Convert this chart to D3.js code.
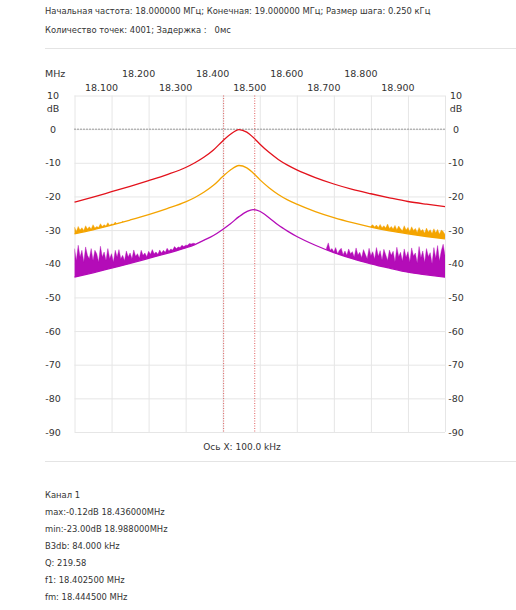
<!DOCTYPE html>
<html>
<head>
<meta charset="utf-8">
<script src="https://cdn.jsdelivr.net/npm/d3@7"></script>
<style>
body { margin: 0; background: #fff; }
text { font-family: "DejaVu Sans", Verdana, sans-serif; fill: #333; white-space: pre; }
</style>
</head>
<body>
<script>
// sweep settings / header
var header1 = "Начальная частота: 18.000000 МГц; Конечная: 19.000000 МГц; Размер шага: 0.250 кГц";
var header2 = "Количество точек: 4001; Задержка :   0мс";
var xAxisCaption = "Ось X: 100.0 kHz";
var infoLines = ["Канал 1", "max:-0.12dB 18.436000MHz", "min:-23.00dB 18.988000MHz",
  "B3db: 84.000 kHz", "Q: 219.58", "f1: 18.402500 MHz", "fm: 18.444500 MHz", "f2: 18.486500 MHz"];

// tick labels
var xGrid = [18.0, 18.1, 18.2, 18.3, 18.4, 18.5, 18.6, 18.7, 18.8, 18.9, 19.0];
var xLabelsTop = [18.2, 18.4, 18.6, 18.8];
var xLabelsBottom = [18.1, 18.3, 18.5, 18.7, 18.9];
var yTicks = [10, 0, -10, -20, -30, -40, -50, -60, -70, -80, -90];
var markers = [18.4025, 18.4865];

// traces (MHz, dB)
var freqs = [18.000, 18.050, 18.100, 18.150, 18.200, 18.250, 18.300, 18.325, 18.350, 18.375,
  18.400, 18.420, 18.444, 18.465, 18.482, 18.500, 18.525, 18.550, 18.575, 18.600,
  18.650, 18.700, 18.750, 18.800, 18.850, 18.900, 18.950, 19.000];
var ch1 = [-21.7, -20.2, -18.6, -17.0, -15.3, -13.5, -11.4, -10.0, -8.3, -6.2,
  -3.5, -1.6, -0.12, -0.9, -2.4, -4.4, -6.9, -9.0, -10.7, -12.1,
  -14.4, -16.3, -17.9, -19.2, -20.4, -21.5, -22.3, -23.0];
var ch2 = [-31.1, -29.9, -28.5, -27.0, -25.4, -23.6, -21.6, -20.3, -18.7, -16.7,
  -14.1, -12.2, -10.8, -11.5, -13.0, -15.0, -17.4, -19.4, -21.0, -22.3,
  -24.5, -26.3, -27.8, -29.1, -30.2, -31.1, -31.9, -32.6];
var ch3 = [-44.0, -42.7, -41.3, -39.9, -38.4, -36.9, -35.3, -34.3, -33.0, -31.6,
  -29.8, -28.2, -26.0, -24.5, -23.9, -24.4, -26.3, -28.5, -30.3, -31.9,
  -34.5, -36.7, -38.5, -40.0, -41.3, -42.5, -43.3, -44.0];

// noise tops (dB) sampled every 5 kHz
var noiseStep = 0.005;
var ch2NoiseLeftStart = 18.000;
var ch2NoiseLeft = [-29.1, -30.4, -28.9, -30.0, -29.3, -30.1, -28.7, -29.7, -29.0, -29.7,
  -28.4, -29.4, -28.9, -29.2, -28.1, -28.9, -28.4, -28.8, -27.8, -28.6,
  -28.2, -28.3, -27.6, -28.2, -27.9, -28.0, -27.4, -27.8, -27.5, -27.6, -27.4];
var ch2NoiseRightStart = 18.800;
var ch2NoiseRight = [-28.8, -28.4, -29.1, -28.5, -29.2, -28.3, -29.3, -28.7, -29.4, -28.2,
  -29.5, -28.9, -29.7, -28.6, -29.9, -28.8, -29.6, -30.2, -28.7, -30.0,
  -29.2, -30.4, -29.0, -30.1, -29.5, -30.7, -29.2, -30.3, -29.8, -30.9,
  -29.4, -30.6, -29.9, -31.0, -29.6, -30.8, -29.8, -31.2, -30.0, -30.4, -31.3];
var ch3NoiseLeftStart = 18.000;
var ch3NoiseLeft = [-35.5, -39.0, -34.5, -38.0, -36.0, -39.5, -35.0, -37.5, -38.5, -35.5,
  -39.0, -36.0, -37.0, -39.5, -34.8, -38.0, -36.5, -39.0, -35.5, -38.5,
  -37.0, -39.5, -36.0, -38.0, -35.8, -38.5, -37.5, -39.0, -36.2, -38.0,
  -36.8, -38.5, -35.9, -37.8, -37.0, -38.3, -36.0, -37.5, -36.8, -37.9,
  -36.3, -37.2, -35.8, -37.0, -36.5, -37.2, -35.9, -36.8, -36.0, -36.6,
  -35.4, -36.2, -35.6, -35.9, -34.9, -35.5, -35.0, -35.2, -34.5, -34.9,
  -34.5, -34.5, -34.0, -34.1, -33.9, -34.0];
var ch3NoiseRightStart = 18.680;
var ch3NoiseRight = [-35.4, -33.8, -36.0, -35.5, -36.5, -35.2, -37.0, -36.0, -35.4, -37.3,
  -36.2, -37.5, -35.6, -37.0, -36.4, -38.0, -35.3, -37.4, -36.6, -38.2,
  -35.8, -37.2, -38.5, -35.4, -37.6, -36.4, -38.6, -35.2, -37.8, -36.1,
  -38.9, -35.7, -37.3, -39.0, -35.9, -37.5, -36.3, -39.4, -35.1, -37.9,
  -36.6, -39.2, -35.6, -38.1, -36.4, -39.5, -35.3, -37.7, -36.8, -39.8,
  -34.9, -38.2, -36.2, -39.6, -35.5, -37.9, -36.7, -40.0, -35.2, -38.4,
  -34.6, -39.2, -36.1, -34.2, -37.5];

var colors = { ch1: "#e3121c", ch2: "#f4a400", ch3: "#b40cb8" };

var svg_width = 516;
var svg_height = 610;
var plotTop = 95.5, plotBottom = 432, plotLeft = 74.5, plotRight = 445;

var svg = d3.select("body")
    .append("svg")
    .attr("width", svg_width)
    .attr("height", svg_height)
    .style("background-color", "#ffffff");

var x = d3.scaleLinear().domain([18, 19]).range([plotLeft, plotRight]);
var y = d3.scaleLinear().domain([10, -90]).range([plotTop, plotBottom]);
var smooth = d3.curveMonotoneX;

// header
svg.append("text").attr("x", 45).attr("y", 14).style("font-size", "8.4px").text(header1);
svg.append("text").attr("x", 45).attr("y", 32.5).style("font-size", "8.4px").text(header2);
svg.append("line").attr("x1", 45).attr("x2", 516).attr("y1", 48.5).attr("y2", 48.5)
    .attr("stroke", "#e4e4e4");
svg.append("line").attr("x1", 45).attr("x2", 516).attr("y1", 461.5).attr("y2", 461.5)
    .attr("stroke", "#e4e4e4");

// grid
svg.append("g")
    .attr("transform", "translate(0," + plotBottom + ")")
    .call(d3.axisBottom(x).tickValues(xGrid).tickSize(-(plotBottom - plotTop)).tickFormat(""))
    .call(g => g.select(".domain").remove())
    .selectAll("line").attr("stroke", "#e6e6e6");
svg.append("g")
    .attr("transform", "translate(" + plotLeft + ",0)")
    .call(d3.axisLeft(y).tickValues(yTicks).tickSize(-(plotRight - plotLeft)).tickFormat(""))
    .call(g => g.select(".domain").remove())
    .selectAll("line").attr("stroke", "#e6e6e6");

// 0 dB reference
svg.append("line")
    .attr("x1", plotLeft).attr("x2", plotRight)
    .attr("y1", y(0)).attr("y2", y(0))
    .attr("stroke", "#444").attr("stroke-dasharray", "1,2");

// markers f1 / f2
svg.selectAll(".marker").data(markers).enter().append("line")
    .attr("class", "marker")
    .attr("x1", d => x(d)).attr("x2", d => x(d))
    .attr("y1", plotTop).attr("y2", plotBottom)
    .attr("stroke", "#e06060").attr("stroke-dasharray", "1,1.5");

// axis labels
svg.append("text").attr("x", 45).attr("y", 76.5).style("font-size", "9.5px").text("MHz");
svg.selectAll(".xt1").data(xLabelsTop).enter().append("text")
    .attr("x", d => x(d) - 10).attr("y", 77)
    .attr("text-anchor", "middle").style("font-size", "9.5px")
    .text(d => d3.format(".3f")(d));
svg.selectAll(".xt2").data(xLabelsBottom).enter().append("text")
    .attr("x", d => x(d) - 10).attr("y", 91)
    .attr("text-anchor", "middle").style("font-size", "9.5px")
    .text(d => d3.format(".3f")(d));

[53, 456].forEach(function(lx) {
    svg.selectAll(null).data(yTicks).enter().append("text")
        .attr("x", lx).attr("y", d => y(d) + 3.5)
        .attr("text-anchor", "middle").style("font-size", "9.5px")
        .text(d => d);
    svg.append("text").attr("x", lx).attr("y", 111.5)
        .attr("text-anchor", "middle").style("font-size", "9.5px").text("dB");
});

svg.append("text").attr("x", 242).attr("y", 449.5)
    .attr("text-anchor", "middle").style("font-size", "9px").text(xAxisCaption);

// noise: jagged fill clipped to the region above each trace
var defs = svg.append("defs");
var above = d3.area().x((d, i) => x(freqs[i])).y0(plotTop).y1(d => y(d)).curve(smooth);
[["clip2", ch2], ["clip3", ch3]].forEach(function(c) {
    defs.append("clipPath").attr("id", c[0]).append("path").attr("d", above(c[1]));
});

[[ch2NoiseLeft, ch2NoiseLeftStart, "clip2", colors.ch2],
 [ch2NoiseRight, ch2NoiseRightStart, "clip2", colors.ch2],
 [ch3NoiseLeft, ch3NoiseLeftStart, "clip3", colors.ch3],
 [ch3NoiseRight, ch3NoiseRightStart, "clip3", colors.ch3]].forEach(function(n) {
    var noiseArea = d3.area()
        .x((d, i) => x(n[1] + i * noiseStep))
        .y0(plotBottom).y1(d => y(d));
    svg.append("path")
        .attr("clip-path", "url(#" + n[2] + ")")
        .attr("d", noiseArea(n[0]))
        .attr("fill", n[3]).attr("stroke", n[3]).attr("stroke-width", 0.4);
});

// traces
var line = d3.line().x((d, i) => x(freqs[i])).y(d => y(d)).curve(smooth);
[[ch3, colors.ch3], [ch2, colors.ch2], [ch1, colors.ch1]].forEach(function(s) {
    svg.append("path").attr("d", line(s[0]))
        .attr("fill", "none").attr("stroke", s[1]).attr("stroke-width", 1.3);
});

// channel info
svg.selectAll(".info").data(infoLines).enter().append("text")
    .attr("x", 45).attr("y", (d, i) => 497.5 + i * 17.1)
    .style("font-size", "8.4px")
    .text(d => d);
</script>
</body>
</html>
